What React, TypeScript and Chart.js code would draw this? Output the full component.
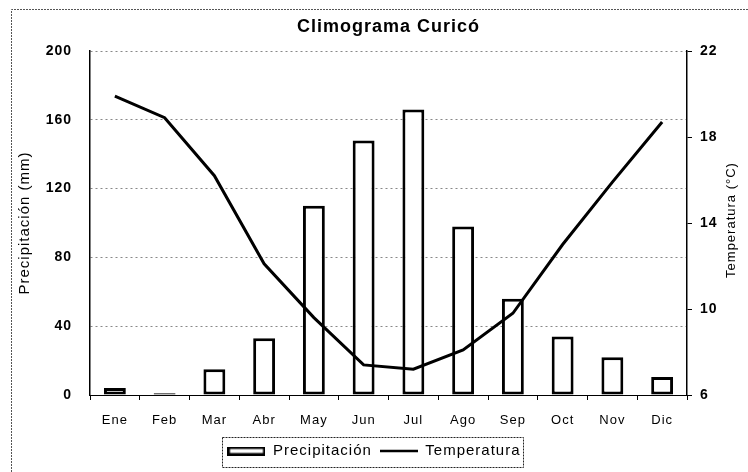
import React, { useEffect, useRef } from "react";
import { Chart, registerables } from "chart.js";

Chart.register(...registerables);

const months = ["Ene", "Feb", "Mar", "Abr", "May", "Jun", "Jul", "Ago", "Sep", "Oct", "Nov", "Dic"];
const precipitacion = [4, 1, 15, 33, 110, 148, 166, 98, 56, 34, 22, 10.5];
const temperatura = [19.9, 18.9, 16.2, 12.1, 9.6, 7.4, 7.2, 8.1, 9.8, 13.0, 15.9, 18.7];
const precipTicks = { min: 0, max: 200, step: 40 };
const tempTicks = { min: 6, max: 22, step: 4 };
const chartTitle = "Climograma Curicó";
const leftTitle = "Precipitación (mm)";
const rightTitle = "Temperatura (°C)";

const F = "'Liberation Sans', Arial, sans-serif";

export default function App() {
  const ref = useRef<HTMLCanvasElement>(null);

  useEffect(() => {
    document.body.style.margin = "0";
    const canvas = ref.current!;

    const barImg = document.createElement("canvas");
    barImg.width = 38;
    barImg.height = 9;
    const bctx = barImg.getContext("2d")!;
    bctx.fillStyle = "#fff";
    bctx.fillRect(0, 0, 38, 9);
    bctx.strokeStyle = "#000";
    bctx.lineWidth = 2.5;
    bctx.strokeRect(1.25, 1.25, 35.5, 6.5);

    const lineImg = document.createElement("canvas");
    lineImg.width = 38;
    lineImg.height = 4;
    const lctx = lineImg.getContext("2d")!;
    lctx.fillStyle = "#000";
    lctx.fillRect(0, 0.75, 38, 2.5);

    const spacing = {
      id: "spacing",
      beforeUpdate(c: any) {
        c.ctx.letterSpacing = "1px";
      },
      beforeLayout(c: any) {
        c.ctx.letterSpacing = "1px";
      },
      beforeDraw(c: any) {
        const ctx = c.ctx;
        ctx.letterSpacing = "1px";
        ctx.save();
        ctx.fillStyle = "#fff";
        ctx.fillRect(0, 0, c.width, c.height);
        ctx.restore();
      },
      afterDraw(c: any) {
        const ctx = c.ctx;
        ctx.save();
        // outer frame (left and top)
        ctx.strokeStyle = "#555";
        ctx.lineWidth = 1;
        ctx.setLineDash([2, 1]);
        ctx.beginPath();
        ctx.moveTo(11.5, c.height);
        ctx.lineTo(11.5, 9.5);
        ctx.lineTo(c.width, 9.5);
        ctx.stroke();
        // legend frame
        const boxes = c.legend && c.legend.legendHitBoxes;
        if (boxes && boxes.length) {
          let l = Infinity, r = -Infinity, t = Infinity;
          boxes.forEach((b: any) => {
            l = Math.min(l, b.left);
            r = Math.max(r, b.left + b.width);
            t = Math.min(t, b.top);
          });
          ctx.setLineDash([2, 1]);
          ctx.strokeStyle = "#222";
          ctx.strokeRect(Math.round(l - 5) + 0.5, Math.round(t - 7) + 0.5, Math.round(r - l + 8), 30);
        }
        // right axis title, reading upward
        ctx.setLineDash([]);
        const area = c.chartArea;
        ctx.translate(731, (area.top + area.bottom) / 2 - 3);
        ctx.rotate(-Math.PI / 2);
        ctx.font = `13px ${F}`;
        ctx.fillStyle = "#000";
        ctx.textAlign = "center";
        ctx.textBaseline = "middle";
        ctx.fillText(rightTitle, 0, 0);
        ctx.restore();
      },
    };

    const chart = new Chart(canvas, {
      type: "bar",
      data: {
        labels: months,
        datasets: [
          {
            type: "bar",
            label: "Precipitación",
            data: precipitacion,
            yAxisID: "y",
            backgroundColor: "#fff",
            borderColor: "#000",
            borderWidth: 3,
            borderSkipped: false,
            barPercentage: 0.44,
            categoryPercentage: 1,
            order: 1,
          } as any,
          {
            type: "line",
            label: "Temperatura",
            data: temperatura,
            yAxisID: "y1",
            borderColor: "#000",
            backgroundColor: "#000",
            borderWidth: 3,
            pointRadius: 0,
            tension: 0,
            fill: false,
            order: 0,
          } as any,
        ],
      },
      options: {
        animation: false,
        responsive: false,
        maintainAspectRatio: false,
        layout: { padding: { top: 8, left: 0, right: 0, bottom: 3.5 } },
        plugins: {
          title: {
            display: true,
            text: chartTitle,
            fullSize: false,
            color: "#000",
            font: { family: F, size: 18, weight: "bold" },
            padding: { top: 8, bottom: 13.4 },
          },
          legend: {
            position: "bottom",
            labels: {
              usePointStyle: true,
              pointStyleWidth: 38,
              boxHeight: 15,
              padding: 8,
              color: "#000",
              font: { family: F, size: 15 },
              generateLabels: (c: any) => {
                const items = (Chart.defaults.plugins.legend.labels.generateLabels as any)(c);
                items.forEach((it: any) => {
                  it.pointStyle = it.datasetIndex === 0 ? barImg : lineImg;
                });
                return items.sort((a: any, b: any) => a.datasetIndex - b.datasetIndex);
              },
            },
          },
          tooltip: { enabled: false },
        },
        scales: {
          x: {
            grid: { offset: true, drawOnChartArea: false, drawTicks: true, tickLength: 5, color: "#000" },
            border: { color: "#000", width: 1 },
            ticks: { color: "#000", padding: 13, font: { family: F, size: 13 } },
            afterFit: (s: any) => {
              s.height = 40.5;
            },
          },
          y: {
            position: "left",
            min: precipTicks.min,
            max: precipTicks.max,
            ticks: { stepSize: precipTicks.step, padding: 18, color: "#000", font: { family: F, size: 14, weight: "bold" } },
            grid: { color: "#888", drawTicks: false, lineWidth: 1 },
            border: { color: "#000", width: 1.5, dash: [2, 3] },
            title: {
              display: true,
              text: leftTitle,
              color: "#000",
              font: { family: F, size: 15 },
              padding: { top: 16, bottom: 0 },
            },
            afterFit: (s: any) => {
              s.width = 90;
            },
          },
          y1: {
            position: "right",
            min: tempTicks.min,
            max: tempTicks.max,
            ticks: { stepSize: tempTicks.step, padding: 8, color: "#000", font: { family: F, size: 14, weight: "bold" } },
            grid: { drawOnChartArea: false, tickLength: 5, color: "#000" },
            border: { color: "#000", width: 1.5 },
            title: { display: false },
            afterFit: (s: any) => {
              s.width = 61;
            },
          },
        },
      } as any,
      plugins: [spacing],
    });

    return () => chart.destroy();
  }, []);

  return (
    <div style={{ width: 748, height: 472 }}>
      <canvas ref={ref} width={748} height={472} style={{ display: "block" }} />
    </div>
  );
}
